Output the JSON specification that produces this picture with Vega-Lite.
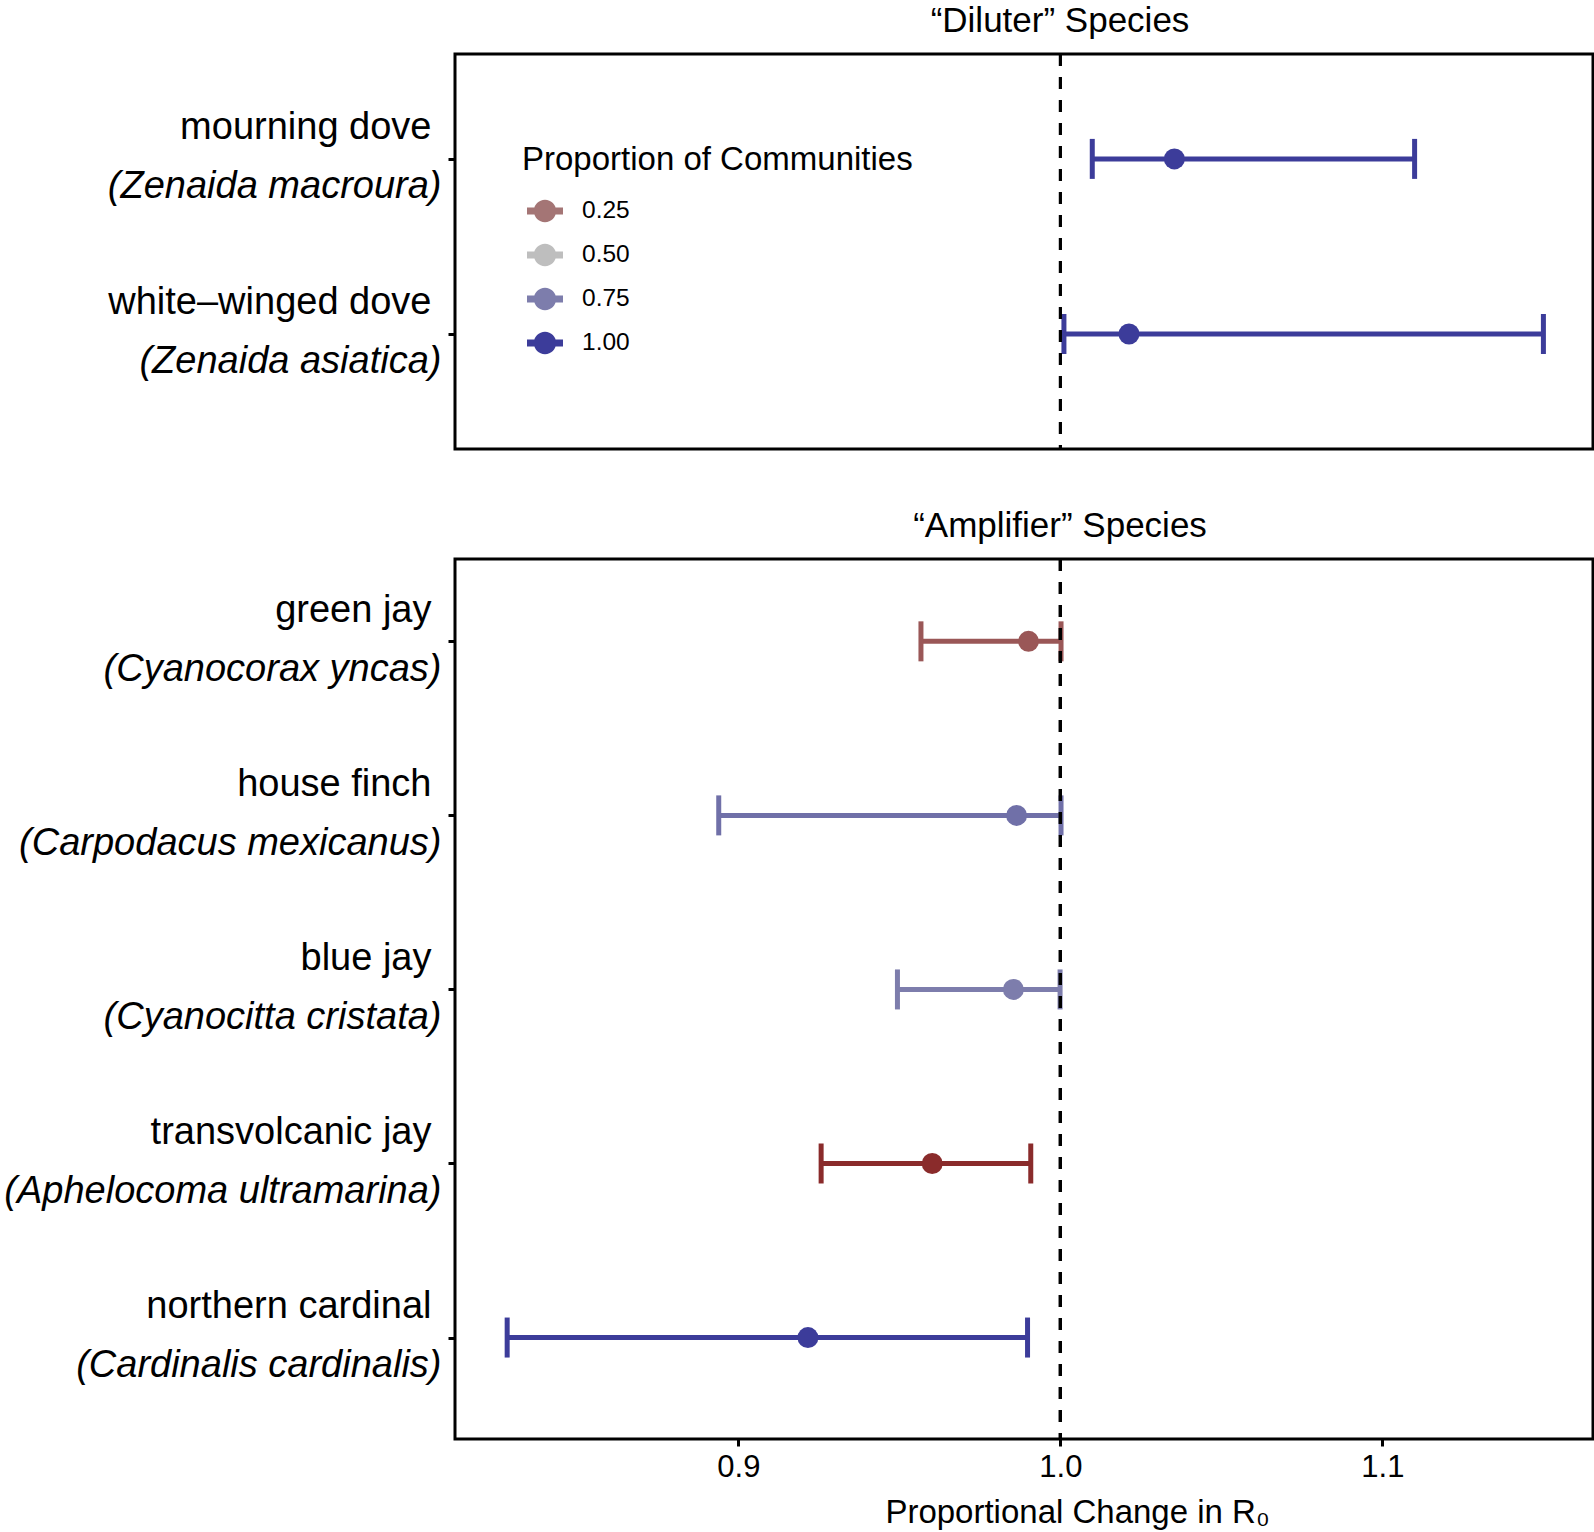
{
  "$schema": "https://vega.github.io/schema/vega-lite/v6.json",
  "padding": {"left": 2, "top": 2, "right": 0, "bottom": 0},
  "background": "white",
  "config": {
    "font": "Liberation Sans",
    "view": {"stroke": "black", "strokeWidth": 3},
    "axis": {"grid": false, "labelColor": "black", "titleColor": "black", "labelFont": "Liberation Sans", "titleFont": "Liberation Sans"},
    "title": {"color": "black", "font": "Liberation Sans", "fontWeight": "normal"}
  },
  "datasets": {
    "diluter": [
      {"common": "mourning dove", "sci": "(Zenaida macroura)", "est": 1.0354, "lo": 1.0099, "hi": 1.110, "prop": 1.0},
      {"common": "white–winged dove", "sci": "(Zenaida asiatica)", "est": 1.0213, "lo": 1.0011, "hi": 1.150, "prop": 1.0}
    ],
    "amplifier": [
      {"common": "green jay", "sci": "(Cyanocorax yncas)", "est": 0.9901, "lo": 0.9567, "hi": 1.0002, "prop": 0.15},
      {"common": "house finch", "sci": "(Carpodacus mexicanus)", "est": 0.9864, "lo": 0.8939, "hi": 1.0002, "prop": 0.8},
      {"common": "blue jay", "sci": "(Cyanocitta cristata)", "est": 0.9854, "lo": 0.9494, "hi": 0.9999, "prop": 0.75},
      {"common": "transvolcanic jay", "sci": "(Aphelocoma ultramarina)", "est": 0.9602, "lo": 0.9257, "hi": 0.9908, "prop": 0.0},
      {"common": "northern cardinal", "sci": "(Cardinalis cardinalis)", "est": 0.9216, "lo": 0.8282, "hi": 0.9898, "prop": 1.0}
    ]
  },
  "spacing": 55,
  "resolve": {"scale": {"color": "independent"}},
  "vconcat": [
    {
      "width": 1138,
      "height": 395,
      "title": {"text": "“Diluter” Species", "fontSize": 35, "anchor": "middle", "dx": 36, "baseline": "alphabetic", "offset": -14},
      "data": {"name": "diluter"},
      "encoding": {
        "color": {
          "field": "prop", "type": "quantitative",
          "scale": {"type": "linear", "domain": [0, 0.5, 1], "range": ["#8a2b2b", "#bebebe", "#3c3c9a"], "interpolate": "rgb"},
          "legend": {
            "type": "symbol", "values": [0.25, 0.5, 0.75, 1.0], "format": ".2f",
            "title": "Proportion of Communities", "titleFontSize": 33, "titleFontWeight": "normal", "titleColor": "black", "titleFont": "Liberation Sans", "titleLimit": 800,
            "labelFontSize": 24.5, "labelColor": "black", "labelFont": "Liberation Sans",
            "orient": "none", "legendX": 67, "legendY": 90, "padding": 0,
            "symbolType": "M-1,-0.19H1V0.19H-1Z M0.62,0A0.62,0.62,0,1,1,-0.62,0A0.62,0.62,0,1,1,0.62,0Z",
            "symbolSize": 1296, "symbolStrokeWidth": 0, "symbolOffset": 5, "rowPadding": 14, "labelOffset": 19, "titlePadding": 16
          }
        }
      },
      "layer": [
        {
          "encoding": {
            "y": {"field": "common", "type": "nominal", "sort": null,
              "scale": {"type": "point", "padding": 0.628, "align": 0.477},
              "axis": {"orient": "left", "title": null, "domain": false, "ticks": true, "tickSize": 7, "tickWidth": 3, "tickColor": "black",
                "labelFontSize": 38, "labelPadding": 17, "labelOffset": -20, "labelBaseline": "alphabetic", "labelLimit": 800}}
          },
          "layer": [
            {"mark": {"type": "rule", "strokeWidth": 5},
             "encoding": {"x": {"field": "lo", "type": "quantitative", "scale": {"domain": [0.812, 1.1654], "nice": false, "zero": false}, "axis": null}, "x2": {"field": "hi"}}},
            {"mark": {"type": "tick", "thickness": 5, "size": 40, "opacity": 1},
             "encoding": {"x": {"field": "lo", "type": "quantitative"}}},
            {"mark": {"type": "tick", "thickness": 5, "size": 40, "opacity": 1},
             "encoding": {"x": {"field": "hi", "type": "quantitative"}}}
          ]
        },
        {
          "mark": {"type": "point", "filled": true, "size": 440, "opacity": 1},
          "encoding": {
            "x": {"field": "est", "type": "quantitative"},
            "y": {"field": "sci", "type": "nominal", "sort": null,
              "scale": {"type": "point", "padding": 0.628, "align": 0.477},
              "axis": {"orient": "left", "title": null, "domain": false, "ticks": false, "tickSize": 7,
                "labelFontSize": 38, "labelFontStyle": "italic", "labelPadding": 14, "labelOffset": 39, "labelBaseline": "alphabetic", "labelLimit": 800}}
          }
        },
        {
          "mark": {"type": "rule", "strokeDash": [12, 11], "strokeWidth": 3},
          "encoding": {"x": {"datum": 1, "type": "quantitative"}, "color": {"value": "black"}}
        }
      ],
      "resolve": {"scale": {"y": "independent"}}
    },
    {
      "width": 1138,
      "height": 880,
      "title": {"text": "“Amplifier” Species", "fontSize": 35, "anchor": "middle", "dx": 36, "baseline": "alphabetic", "offset": -14},
      "data": {"name": "amplifier"},
      "encoding": {
        "color": {
          "field": "prop", "type": "quantitative",
          "scale": {"type": "linear", "domain": [0, 0.5, 1], "range": ["#8a2b2b", "#bebebe", "#3c3c9a"], "interpolate": "rgb"},
          "legend": null
        }
      },
      "layer": [
        {
          "encoding": {
            "y": {"field": "common", "type": "nominal", "sort": null,
              "scale": {"type": "point", "padding": 0.528, "align": 0.448},
              "axis": {"orient": "left", "title": null, "domain": false, "ticks": true, "tickSize": 7, "tickWidth": 3, "tickColor": "black",
                "labelFontSize": 38, "labelPadding": 17, "labelOffset": -20, "labelBaseline": "alphabetic", "labelLimit": 800}}
          },
          "layer": [
            {"mark": {"type": "rule", "strokeWidth": 5},
             "encoding": {"x": {"field": "lo", "type": "quantitative", "scale": {"domain": [0.812, 1.1654], "nice": false, "zero": false},
               "axis": {"values": [0.9, 1.0, 1.1], "format": ".1f", "title": "Proportional Change in R₀", "titleFontSize": 33, "titleFontWeight": "normal",
                 "titleX": 622, "titleAlign": "center", "titlePadding": 14, "labelFontSize": 31, "labelPadding": 6, "tickSize": 7, "tickWidth": 3, "tickColor": "black", "domain": false}},
               "x2": {"field": "hi"}}},
            {"mark": {"type": "tick", "thickness": 5, "size": 40, "opacity": 1},
             "encoding": {"x": {"field": "lo", "type": "quantitative"}}},
            {"mark": {"type": "tick", "thickness": 5, "size": 40, "opacity": 1},
             "encoding": {"x": {"field": "hi", "type": "quantitative"}}}
          ]
        },
        {
          "mark": {"type": "point", "filled": true, "size": 440, "opacity": 1},
          "encoding": {
            "x": {"field": "est", "type": "quantitative"},
            "y": {"field": "sci", "type": "nominal", "sort": null,
              "scale": {"type": "point", "padding": 0.528, "align": 0.448},
              "axis": {"orient": "left", "title": null, "domain": false, "ticks": false, "tickSize": 7,
                "labelFontSize": 38, "labelFontStyle": "italic", "labelPadding": 14, "labelOffset": 39, "labelBaseline": "alphabetic", "labelLimit": 800}}
          }
        },
        {
          "mark": {"type": "rule", "strokeDash": [12, 11], "strokeWidth": 3},
          "encoding": {"x": {"datum": 1, "type": "quantitative"}, "color": {"value": "black"}}
        }
      ],
      "resolve": {"scale": {"y": "independent"}}
    }
  ]
}
